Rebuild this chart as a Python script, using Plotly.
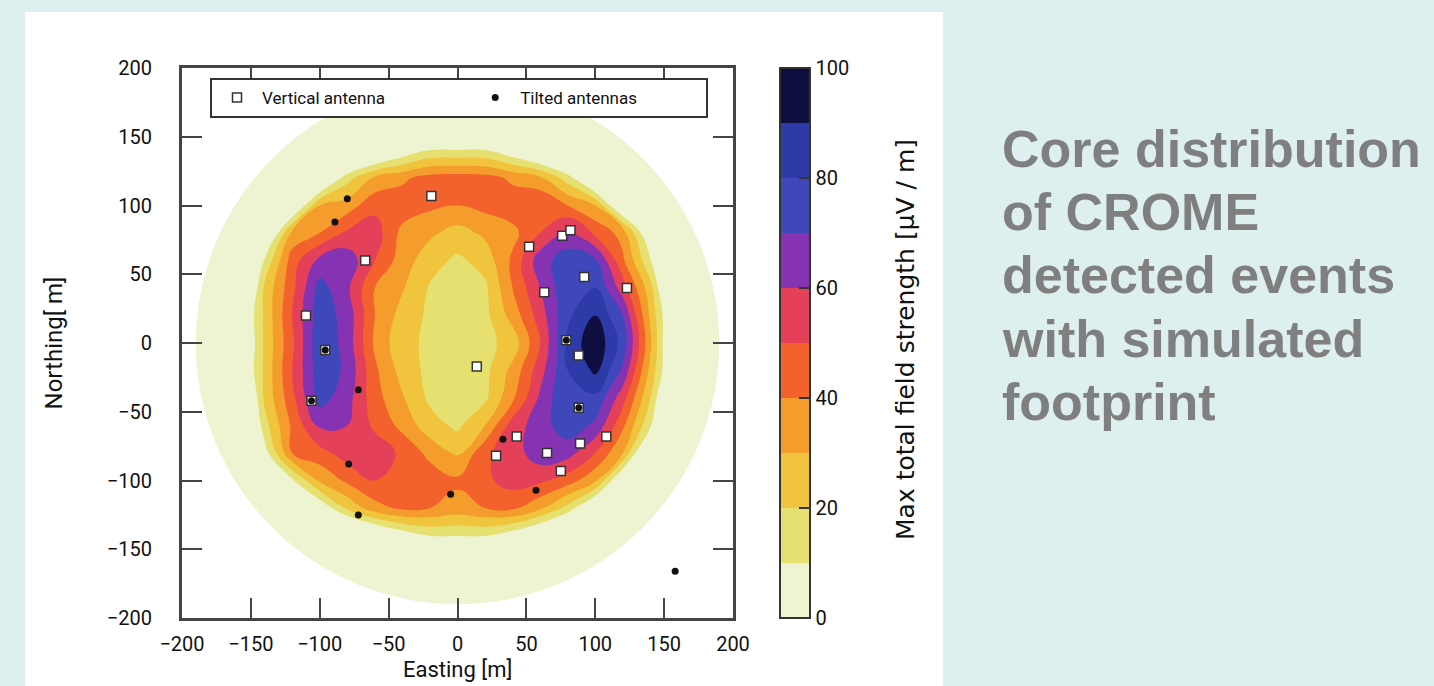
import plotly.graph_objects as go

# ---------------- data ----------------
# extent of the simulated footprint (pale outer disc) [m]
footprint_radius = 190

# simulated footprint: max total field strength [uV/m] on a 20 m grid
# (values below 10 outside the ring fall into the pale disc)
grid_e = [-200, -180, -160, -140, -120, -100, -80, -60, -40, -20, 0,
          20, 40, 60, 80, 100, 120, 140, 160, 180, 200]
grid_n_top_down = [200, 180, 160, 140, 120, 100, 80, 60, 40, 20, 0,
                   -20, -40, -60, -80, -100, -120, -140, -160, -180, -200]
field_rows = [
    [-40, -40, -40, -40, -40, -40, -40, -40, -40, -40, -40, -40, -40, -40, -40, -40, -40, -40, -40, -40, -40],
    [-40, -40, -40, -40, -40, -40, -40, -40, -40, -40, -40, -40, -40, -40, -40, -40, -40, -40, -40, -40, -40],
    [-40, -40, -40, -40, -40, -40, -40, -40, -40, -40, -40, -40, -40, -40, -40, -40, -40, -40, -40, -40, -40],
    [-40, -40, -40, -40, -40, -40, -25, -12, 1, 10.5, 11, 10.5, 1, -12, -25, -40, -40, -40, -40, -40, -40],
    [-40, -40, -40, -40, -30, -12, 16, 32, 38, 44, 45, 44, 38, 32, 15, -12, -30, -40, -40, -40, -40],
    [-40, -40, -35, -30, -7, 30, 35, 47, 46, 42, 40, 43, 46, 50, 40, 30, -7, -30, -35, -40, -40],
    [-40, -40, -25, -12, 33, 40, 52, 55, 37, 32, 26, 32, 37, 50, 63, 48, 36, -4, -25, -40, -40],
    [-40, -35, -30, 11, 45, 63, 66, 50, 35, 24, 18, 24, 42, 66, 75, 72, 42, 11, -30, -35, -40],
    [-40, -35, -24, 22, 47, 74, 62, 40, 31, 19, 17, 18, 40, 60, 78, 80, 55, 24, -26, -35, -40],
    [-40, -30, -9, 22, 50, 76, 66, 40, 26, 18, 17, 17, 34, 55, 78, 90, 70, 28, -13, -30, -40],
    [-40, -30, -12, 22, 48, 78, 66, 38, 23, 18, 18, 17, 24, 50, 82, 98, 76, 32, -17, -30, -40],
    [-40, -30, -9, 22, 50, 76, 68, 42, 26, 17, 17, 17, 33, 56, 80, 92, 68, 27, -13, -30, -40],
    [-40, -35, -24, 22, 47, 74, 64, 44, 31, 18, 17, 18, 38, 62, 80, 78, 54, 20, -25, -35, -40],
    [-40, -35, -30, 16, 42, 62, 60, 48, 37, 24, 18, 30, 55, 65, 76, 68, 42, 11, -30, -35, -40],
    [-40, -40, -25, 5, 40, 46, 55, 56, 48, 37, 28, 48, 55, 66, 64, 50, 30, -15, -25, -40, -40],
    [-40, -40, -35, -30, 8, 32, 42, 50, 50, 46, 42, 48, 54, 52, 45, 32, -5, -30, -35, -40, -40],
    [-40, -40, -40, -35, -25, 0, 22, 36, 42, 40, 36, 40, 42, 32, 16, -8, -25, -35, -40, -40, -40],
    [-40, -40, -40, -40, -40, -40, -20, -8, 3, 10.5, 11, 10.5, 3, -8, -20, -40, -40, -40, -40, -40, -40],
    [-40, -40, -40, -40, -40, -40, -40, -40, -40, -40, -40, -40, -40, -40, -40, -40, -40, -40, -40, -40, -40],
    [-40, -40, -40, -40, -40, -40, -40, -40, -40, -40, -40, -40, -40, -40, -40, -40, -40, -40, -40, -40, -40],
    [-40, -40, -40, -40, -40, -40, -40, -40, -40, -40, -40, -40, -40, -40, -40, -40, -40, -40, -40, -40, -40],
]

# antenna core positions [m]
vertical_e = [-19, -67, -110, -96, -106, 14, 52, 76, 82, 63, 92, 123, 79, 88, 88, 108, 89, 65, 75, 43, 28]
vertical_n = [107, 60, 20, -5, -42, -17, 70, 78, 82, 37, 48, 40, 2, -9, -47, -68, -73, -80, -93, -68, -82]
tilted_e = [-80, -89, -96, -72, -106, -79, -72, -5, 33, 57, 79, 88, 158]
tilted_n = [105, 88, -5, -34, -42, -88, -125, -110, -70, -107, 2, -47, -166]

axis_ticks = [-200, -150, -100, -50, 0, 50, 100, 150, 200]
cb_ticks = [0, 20, 40, 60, 80, 100]

band_colors = ['#eef3d2', '#e5e070', '#f0c43c', '#f49c2c', '#f3622c',
               '#e4405a', '#8533b3', '#3f48bb', '#2e3aa8', '#0e0e40']

# ---------------- figure ----------------
W, H = 1434, 686
L, R, T, B = 182, 701, 68, 68
PW, PH = W - L - R, H - T - B


def px_x(p):
    return (p - L) / PW


def px_y(p):
    return (H - B - p) / PH


grid_n = grid_n_top_down[::-1]
field_z = field_rows[::-1]

# contour fill colour map for levels 10..100: value v sits at (v - 5) / 100
contour_scale = [[0.0, 'rgba(255,255,255,0)']] + \
                [[k / 10, band_colors[k]] for k in range(1, 10)] + [[1.0, band_colors[-1]]]

cb_scale = []
for k, c in enumerate(band_colors):
    cb_scale += [[k / 10, c], [(k + 1) / 10, c]]

tick_font = dict(family='Roboto', size=20, color='#111111')

fig = go.Figure()
fig.add_trace(go.Contour(
    x=grid_e, y=grid_n, z=field_z,
    autocontour=False,
    contours=dict(start=10, end=100, size=10, coloring='fill', showlines=False),
    colorscale=contour_scale,
    line=dict(width=0, smoothing=1.3),
    showscale=False, hoverinfo='skip', showlegend=False,
))
fig.add_trace(go.Scatter(
    x=vertical_e, y=vertical_n, mode='markers',
    name='Vertical antenna' + '\u00a0' * 19,
    marker=dict(symbol='square', size=9, color='white', line=dict(width=1.5, color='#333333')),
))
fig.add_trace(go.Scatter(
    x=tilted_e, y=tilted_n, mode='markers',
    name='Tilted antennas' + '\u00a0' * 15,
    marker=dict(symbol='circle', size=7, color='#111111'),
))
# colour bar
fig.add_trace(go.Scatter(
    x=[None, None], y=[None, None], mode='markers', showlegend=False, hoverinfo='skip',
    marker=dict(color=[0, 100], cmin=0, cmax=100, colorscale=cb_scale, showscale=True,
                colorbar=dict(x=px_x(780), xanchor='left', y=0.5, yanchor='middle',
                              len=1, lenmode='fraction', thickness=30, thicknessmode='pixels',
                              xpad=0, ypad=0, outlinewidth=2, outlinecolor='#333333',
                              tickvals=cb_ticks, ticks='inside', ticklen=12, tickwidth=2,
                              tickcolor='#333333', tickfont=tick_font)),
))

axis_common = dict(
    range=[-200, 200], tickvals=axis_ticks, ticks='inside', ticklen=20, tickwidth=2,
    tickcolor='#444444', showline=True, linewidth=3, linecolor='#444444', mirror='ticks',
    showgrid=False, zeroline=False, tickfont=tick_font, automargin=False,
)
fig.update_xaxes(**axis_common, ticklabelstandoff=6)
fig.update_yaxes(**axis_common, ticklabelstandoff=23,
                 title=dict(text='Northing[ m]', font=dict(family='Roboto', size=24, color='#111111'), standoff=38))

annotations = [
    dict(text='Easting [m]', x=0.5, y=px_y(684), xref='paper', yref='paper', showarrow=False,
         xanchor='center', yanchor='bottom', font=dict(family='Roboto', size=22, color='#111111')),
    dict(text='Max total field strength [µV / m]', textangle=-90, x=px_x(905), y=px_y(340),
         xref='paper', yref='paper', showarrow=False, xanchor='center', yanchor='middle',
         font=dict(family='DejaVu Sans', size=25, color='#111111')),
]
side_lines = ['Core distribution', 'of CROME', 'detected events', 'with simulated', 'footprint']
side_centres = [149, 212, 275, 339, 402]
for txt, yc in zip(side_lines, side_centres):
    annotations.append(dict(text='<b>' + txt + '</b>', x=px_x(1000), y=px_y(yc), xref='paper', yref='paper',
                            showarrow=False, xanchor='left', yanchor='middle',
                            font=dict(family='Liberation Sans', size=52, color='#7f7f7f')))

shapes = [
    dict(type='rect', xref='paper', yref='paper', x0=px_x(25), x1=px_x(943),
         y0=px_y(720), y1=px_y(12), fillcolor='white', line=dict(width=0), layer='below'),
    dict(type='circle', xref='x', yref='y', x0=-footprint_radius, x1=footprint_radius,
         y0=-footprint_radius, y1=footprint_radius, fillcolor=band_colors[0],
         line=dict(width=0), layer='below'),
]

fig.update_layout(
    width=W, height=H, autosize=False,
    margin=dict(l=L, r=R, t=T, b=B, pad=0),
    paper_bgcolor='#ddefee', plot_bgcolor='white',
    legend=dict(orientation='h', x=px_x(210), xanchor='left', y=px_y(78), yanchor='top',
                bgcolor='white', bordercolor='#333333', borderwidth=2, itemwidth=40,
                font=dict(family='Roboto', size=17, color='#111111')),
    shapes=shapes,
    annotations=annotations,
)

fig.write_html('out.html', config={'responsive': False, 'displayModeBar': False},
               post_script="document.body.style.margin='0px';document.body.style.background='#ddefee';")
